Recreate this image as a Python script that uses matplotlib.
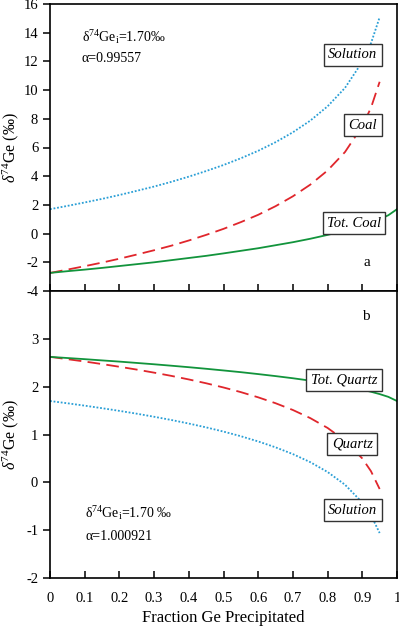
import numpy as np
import matplotlib
matplotlib.use("Agg")
import matplotlib.pyplot as plt

plt.rcParams["font.family"] = ["Liberation Serif", "DejaVu Serif"]
plt.rcParams["mathtext.fontset"] = "custom"
plt.rcParams["mathtext.rm"] = "Liberation Serif"
plt.rcParams["mathtext.it"] = "Liberation Serif:italic"

# fraction of Ge precipitated
frac = [0, 0.05, 0.1, 0.15, 0.2, 0.25, 0.3, 0.35, 0.4, 0.45, 0.5,
        0.55, 0.6, 0.65, 0.7, 0.75, 0.8, 0.85, 0.9, 0.925, 0.95]
frac_tot = frac[1:] + [0.975, 1.0]

# panel a (alpha = 0.99557)
sol_a = [1.70, 1.93, 2.17, 2.42, 2.69, 2.98, 3.28, 3.61, 3.97, 4.36, 4.78,
         5.25, 5.77, 6.37, 7.06, 7.87, 8.87, 10.15, 11.97, 13.26, 15.08]
coal_a = [-2.74, -2.51, -2.27, -2.02, -1.75, -1.46, -1.16, -0.84, -0.48, -0.09, 0.33,
          0.80, 1.31, 1.91, 2.60, 3.41, 4.40, 5.68, 7.49, 8.77, 10.58]
totcoal_a = [-2.74, -2.62, -2.51, -2.39, -2.26, -2.13, -2.00, -1.85, -1.70, -1.55, -1.38,
             -1.20, -1.02, -0.81, -0.60, -0.36, -0.09, 0.21, 0.56, 0.76, 1.00, 1.28, 1.70]

# panel b (alpha = 1.000921)
sol_b = [1.70, 1.653, 1.603, 1.550, 1.494, 1.435, 1.371, 1.303, 1.229, 1.149, 1.061,
         0.964, 0.855, 0.732, 0.590, 0.422, 0.216, -0.049, -0.422, -0.687, -1.060]
qtz_b = [2.623, 2.575, 2.526, 2.472, 2.416, 2.357, 2.293, 2.225, 2.151, 2.071, 1.983,
         1.886, 1.777, 1.654, 1.512, 1.343, 1.137, 0.872, 0.499, 0.233, -0.140]
totqtz_b = [2.623, 2.599, 2.575, 2.549, 2.524, 2.496, 2.468, 2.438, 2.407, 2.374, 2.339,
            2.303, 2.263, 2.221, 2.176, 2.126, 2.071, 2.009, 1.936, 1.894, 1.845, 1.787, 1.70]

xticks = [0, 0.1, 0.2, 0.3, 0.4, 0.5, 0.6, 0.7, 0.8, 0.9, 1]
xticklabels = ["0", "0.1", "0.2", "0.3", "0.4", "0.5", "0.6", "0.7", "0.8", "0.9", "1"]

BLUE = "#2a9fd6"
RED = "#e0262c"
GREEN = "#12943c"

fig = plt.figure(figsize=(3.99, 6.28), dpi=100)
ax1 = fig.add_axes([50 / 399, 1 - 291 / 628, 347 / 399, 287 / 628])
ax2 = fig.add_axes([50 / 399, 1 - 578 / 628, 347 / 399, 287 / 628])

ftot = [0] + frac_tot

ax1.plot(frac, sol_a, color=BLUE, linestyle=(0, (1, 1)), linewidth=1.3)
ax1.plot(frac, coal_a, color=RED, linestyle=(0, (7, 3.5)), linewidth=1.3)
ax1.plot(ftot, totcoal_a, color=GREEN, linestyle="-", linewidth=1.3)

ax2.plot(frac, sol_b, color=BLUE, linestyle=(0, (1, 1)), linewidth=1.3)
ax2.plot(frac, qtz_b, color=RED, linestyle=(0, (7, 3.5)), linewidth=1.3)
ax2.plot(ftot, totqtz_b, color=GREEN, linestyle="-", linewidth=1.3)

ax1.set_ylim(-4, 16)
ax1.set_yticks(np.arange(-4, 17, 2))
ax1.set_yticklabels([str(v) for v in range(-4, 17, 2)])
ax2.set_ylim(-2, 4)
ax2.set_yticks([-2, -1, 0, 1, 2, 3])
ax2.set_yticklabels(["-2", "-1", "0", "1", "2", "3"])

for ax in (ax1, ax2):
    ax.set_xlim(0, 1)
    ax.set_xticks(xticks)
    for sp in ax.spines.values():
        sp.set_linewidth(1.2)
    ax.tick_params(axis="x", direction="in", length=5, width=1.1, top=False, pad=10)
    ax.tick_params(axis="y", direction="out", length=5, width=1.1, right=False,
                   labelsize=10.5)
    ax.set_ylabel(r"$\it{\delta}^{74}$Ge (‰)", fontsize=11.5)
    ax.yaxis.set_label_coords(-0.085, 0.5)

ax1.tick_params(axis="x", labelbottom=False)
ax2.set_xticklabels(xticklabels, fontsize=10.5)
ax2.set_xlabel("Fraction Ge Precipitated", fontsize=12, labelpad=4)

box = dict(boxstyle="square,pad=0.3", facecolor="white", edgecolor="#333333", linewidth=1.0)
lab = dict(fontsize=10.5, style="italic", ha="center", va="center", bbox=box)

ax1.text(0.873, 12.45, "Solution", **lab)
ax1.text(0.902, 7.56, "Coal", **lab)
ax1.text(0.876, 0.72, "Tot. Coal", **lab)
ax1.text(0.913, -2.0, "a", fontsize=11, ha="center", va="center")
ax1.text(0.092, 13.7, r"δ$^{74}$Ge$_{\rm i}$=1.70‰", fontsize=10, ha="left", va="center")
ax1.text(0.092, 12.2, "α=0.99557", fontsize=10, ha="left", va="center")

ax2.text(0.847, 2.14, "Tot. Quartz", **lab)
ax2.text(0.871, 0.80, "Quartz", **lab)
ax2.text(0.873, -0.58, "Solution", **lab)
ax2.text(0.911, 3.46, "b", fontsize=11, ha="center", va="center")
ax2.text(0.101, -0.64, r"δ$^{74}$Ge$_{\rm i}$=1.70 ‰", fontsize=10, ha="left", va="center")
ax2.text(0.101, -1.14, "α=1.000921", fontsize=10, ha="left", va="center")

fig.savefig("out.png", dpi=100)
